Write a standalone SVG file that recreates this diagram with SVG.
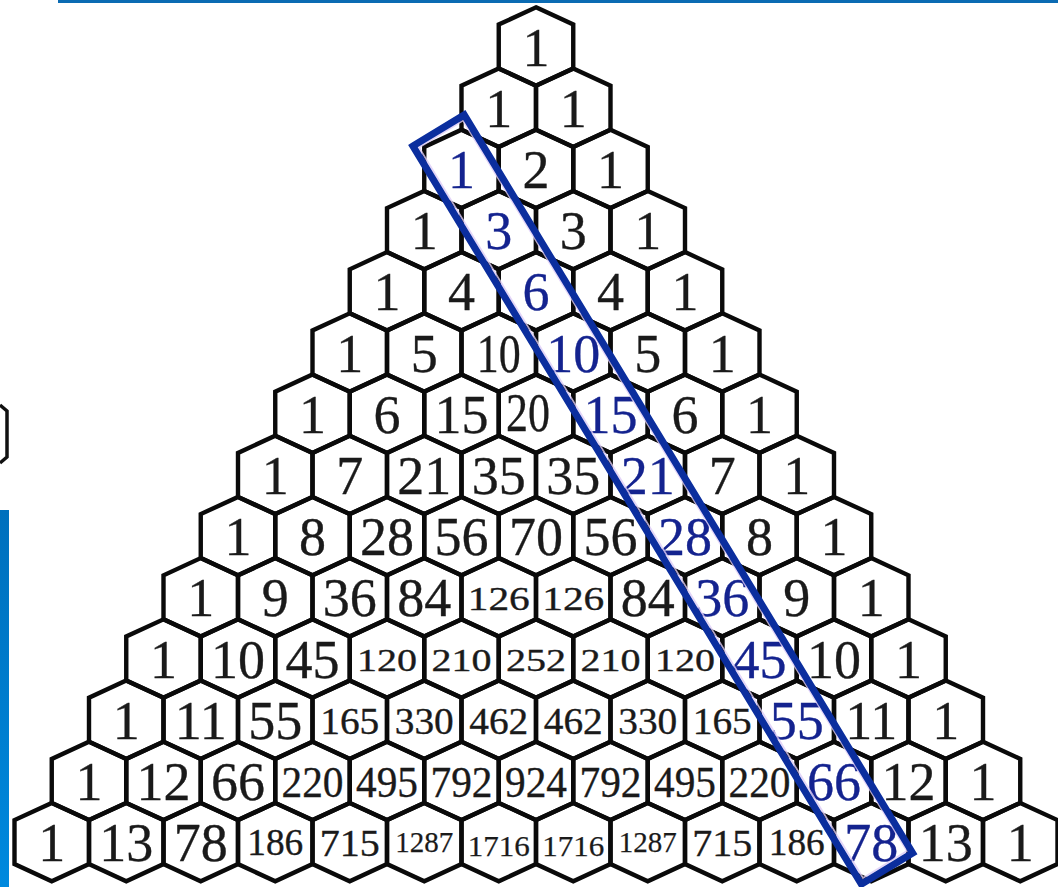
<svg xmlns="http://www.w3.org/2000/svg" width="1058" height="887" viewBox="0 0 1058 887">
<style>
.hex{fill:none;stroke:#0a0a0a;stroke-width:4.4;stroke-linejoin:miter}
.t{font-family:'Liberation Serif','Times New Roman','DejaVu Serif',serif;text-anchor:middle;fill:#1a1a1a;stroke:#1a1a1a;stroke-width:0.35}
.a{font-size:54px}
.b{font-size:34px}
.c{font-size:32px}
.d{font-size:37px}
.e{font-size:44px}
.f{font-size:38px}
.g{font-size:29px;stroke-width:0.25}
.hl{fill:#14238f;stroke:#14238f}
</style>
<defs>
<polygon id="hx" class="hex" points="0,-39.2 37.25,-22 37.25,22 0,39.2 -37.25,22 -37.25,-22"/>
<linearGradient id="bar" x1="0" y1="0" x2="0" y2="1">
<stop offset="0" stop-color="#0070bd"/>
<stop offset="1" stop-color="#0089de"/>
</linearGradient>
</defs>
<rect width="1058" height="887" fill="#fff"/>
<rect x="58" y="0" width="1000" height="3" fill="#0b6bb3"/>
<rect x="0" y="510" width="9" height="377" fill="url(#bar)"/>
<path d="M0,405 L7,411 L7,457 L0,463" fill="none" stroke="#111" stroke-width="3.5"/>
<g id="nodes" font-family="'Liberation Serif','Times New Roman','DejaVu Serif',serif">
<g id="n0_0" transform="translate(536,46.5)"><use href="#hx"/><text class="t a" y="19">1</text></g>
<g id="n1_0" transform="translate(498.75,107.7)"><use href="#hx"/><text class="t a" y="19">1</text></g>
<g id="n1_1" transform="translate(573.25,107.7)"><use href="#hx"/><text class="t a" y="19">1</text></g>
<g id="n2_0" transform="translate(461.5,168.9)"><use href="#hx"/><text class="t a hl" y="19">1</text></g>
<g id="n2_1" transform="translate(536,168.9)"><use href="#hx"/><text class="t a" y="19">2</text></g>
<g id="n2_2" transform="translate(610.5,168.9)"><use href="#hx"/><text class="t a" y="19">1</text></g>
<g id="n3_0" transform="translate(424.25,230.1)"><use href="#hx"/><text class="t a" y="19">1</text></g>
<g id="n3_1" transform="translate(498.75,230.1)"><use href="#hx"/><text class="t a hl" y="19">3</text></g>
<g id="n3_2" transform="translate(573.25,230.1)"><use href="#hx"/><text class="t a" y="19">3</text></g>
<g id="n3_3" transform="translate(647.75,230.1)"><use href="#hx"/><text class="t a" y="19">1</text></g>
<g id="n4_0" transform="translate(387,291.3)"><use href="#hx"/><text class="t a" y="19">1</text></g>
<g id="n4_1" transform="translate(461.5,291.3)"><use href="#hx"/><text class="t a" y="19">4</text></g>
<g id="n4_2" transform="translate(536,291.3)"><use href="#hx"/><text class="t a hl" y="19">6</text></g>
<g id="n4_3" transform="translate(610.5,291.3)"><use href="#hx"/><text class="t a" y="19">4</text></g>
<g id="n4_4" transform="translate(685,291.3)"><use href="#hx"/><text class="t a" y="19">1</text></g>
<g id="n5_0" transform="translate(349.75,352.5)"><use href="#hx"/><text class="t a" y="19">1</text></g>
<g id="n5_1" transform="translate(424.25,352.5)"><use href="#hx"/><text class="t a" y="19">5</text></g>
<g id="n5_2" transform="translate(498.75,352.5)"><use href="#hx"/><text class="t a" y="19" textLength="44" lengthAdjust="spacingAndGlyphs">10</text></g>
<g id="n5_3" transform="translate(573.25,352.5)"><use href="#hx"/><text class="t a hl" y="19">10</text></g>
<g id="n5_4" transform="translate(647.75,352.5)"><use href="#hx"/><text class="t a" y="19">5</text></g>
<g id="n5_5" transform="translate(722.25,352.5)"><use href="#hx"/><text class="t a" y="19">1</text></g>
<g id="n6_0" transform="translate(312.5,413.7)"><use href="#hx"/><text class="t a" y="19">1</text></g>
<g id="n6_1" transform="translate(387,413.7)"><use href="#hx"/><text class="t a" y="19">6</text></g>
<g id="n6_2" transform="translate(461.5,413.7)"><use href="#hx"/><text class="t a" y="19">15</text></g>
<g id="n6_3" transform="translate(536,413.7)"><use href="#hx"/><text class="t a" x="-8" y="17" textLength="44" lengthAdjust="spacingAndGlyphs">20</text></g>
<g id="n6_4" transform="translate(610.5,413.7)"><use href="#hx"/><text class="t a hl" y="19">15</text></g>
<g id="n6_5" transform="translate(685,413.7)"><use href="#hx"/><text class="t a" y="19">6</text></g>
<g id="n6_6" transform="translate(759.5,413.7)"><use href="#hx"/><text class="t a" y="19">1</text></g>
<g id="n7_0" transform="translate(275.25,474.9)"><use href="#hx"/><text class="t a" y="19">1</text></g>
<g id="n7_1" transform="translate(349.75,474.9)"><use href="#hx"/><text class="t a" y="19">7</text></g>
<g id="n7_2" transform="translate(424.25,474.9)"><use href="#hx"/><text class="t a" y="19">21</text></g>
<g id="n7_3" transform="translate(498.75,474.9)"><use href="#hx"/><text class="t a" y="19">35</text></g>
<g id="n7_4" transform="translate(573.25,474.9)"><use href="#hx"/><text class="t a" y="19">35</text></g>
<g id="n7_5" transform="translate(647.75,474.9)"><use href="#hx"/><text class="t a hl" y="19">21</text></g>
<g id="n7_6" transform="translate(722.25,474.9)"><use href="#hx"/><text class="t a" y="19">7</text></g>
<g id="n7_7" transform="translate(796.75,474.9)"><use href="#hx"/><text class="t a" y="19">1</text></g>
<g id="n8_0" transform="translate(238,536.1)"><use href="#hx"/><text class="t a" y="19">1</text></g>
<g id="n8_1" transform="translate(312.5,536.1)"><use href="#hx"/><text class="t a" y="19">8</text></g>
<g id="n8_2" transform="translate(387,536.1)"><use href="#hx"/><text class="t a" y="19">28</text></g>
<g id="n8_3" transform="translate(461.5,536.1)"><use href="#hx"/><text class="t a" y="19">56</text></g>
<g id="n8_4" transform="translate(536,536.1)"><use href="#hx"/><text class="t a" y="19">70</text></g>
<g id="n8_5" transform="translate(610.5,536.1)"><use href="#hx"/><text class="t a" y="19">56</text></g>
<g id="n8_6" transform="translate(685,536.1)"><use href="#hx"/><text class="t a hl" y="19">28</text></g>
<g id="n8_7" transform="translate(759.5,536.1)"><use href="#hx"/><text class="t a" y="19">8</text></g>
<g id="n8_8" transform="translate(834,536.1)"><use href="#hx"/><text class="t a" y="19">1</text></g>
<g id="n9_0" transform="translate(200.75,597.3)"><use href="#hx"/><text class="t a" y="19">1</text></g>
<g id="n9_1" transform="translate(275.25,597.3)"><use href="#hx"/><text class="t a" y="19">9</text></g>
<g id="n9_2" transform="translate(349.75,597.3)"><use href="#hx"/><text class="t a" y="19">36</text></g>
<g id="n9_3" transform="translate(424.25,597.3)"><use href="#hx"/><text class="t a" y="19">84</text></g>
<g id="n9_4" transform="translate(498.75,597.3)"><use href="#hx"/><text class="t b" y="13" textLength="62" lengthAdjust="spacingAndGlyphs">126</text></g>
<g id="n9_5" transform="translate(573.25,597.3)"><use href="#hx"/><text class="t b" y="13" textLength="62" lengthAdjust="spacingAndGlyphs">126</text></g>
<g id="n9_6" transform="translate(647.75,597.3)"><use href="#hx"/><text class="t a" y="19">84</text></g>
<g id="n9_7" transform="translate(722.25,597.3)"><use href="#hx"/><text class="t a hl" y="19">36</text></g>
<g id="n9_8" transform="translate(796.75,597.3)"><use href="#hx"/><text class="t a" y="19">9</text></g>
<g id="n9_9" transform="translate(871.25,597.3)"><use href="#hx"/><text class="t a" y="19">1</text></g>
<g id="n10_0" transform="translate(163.5,658.5)"><use href="#hx"/><text class="t a" y="19">1</text></g>
<g id="n10_1" transform="translate(238,658.5)"><use href="#hx"/><text class="t a" y="19">10</text></g>
<g id="n10_2" transform="translate(312.5,658.5)"><use href="#hx"/><text class="t a" y="19">45</text></g>
<g id="n10_3" transform="translate(387,658.5)"><use href="#hx"/><text class="t c" y="12" textLength="60" lengthAdjust="spacingAndGlyphs">120</text></g>
<g id="n10_4" transform="translate(461.5,658.5)"><use href="#hx"/><text class="t c" y="12" textLength="60" lengthAdjust="spacingAndGlyphs">210</text></g>
<g id="n10_5" transform="translate(536,658.5)"><use href="#hx"/><text class="t c" y="12" textLength="60" lengthAdjust="spacingAndGlyphs">252</text></g>
<g id="n10_6" transform="translate(610.5,658.5)"><use href="#hx"/><text class="t c" y="12" textLength="60" lengthAdjust="spacingAndGlyphs">210</text></g>
<g id="n10_7" transform="translate(685,658.5)"><use href="#hx"/><text class="t c" y="12" textLength="60" lengthAdjust="spacingAndGlyphs">120</text></g>
<g id="n10_8" transform="translate(759.5,658.5)"><use href="#hx"/><text class="t a hl" y="19">45</text></g>
<g id="n10_9" transform="translate(834,658.5)"><use href="#hx"/><text class="t a" y="19">10</text></g>
<g id="n10_10" transform="translate(908.5,658.5)"><use href="#hx"/><text class="t a" y="19">1</text></g>
<g id="n11_0" transform="translate(126.25,719.7)"><use href="#hx"/><text class="t a" y="19">1</text></g>
<g id="n11_1" transform="translate(200.75,719.7)"><use href="#hx"/><text class="t a" y="19">11</text></g>
<g id="n11_2" transform="translate(275.25,719.7)"><use href="#hx"/><text class="t a" y="19">55</text></g>
<g id="n11_3" transform="translate(349.75,719.7)"><use href="#hx"/><text class="t d" y="14" textLength="59" lengthAdjust="spacingAndGlyphs">165</text></g>
<g id="n11_4" transform="translate(424.25,719.7)"><use href="#hx"/><text class="t d" y="14" textLength="59" lengthAdjust="spacingAndGlyphs">330</text></g>
<g id="n11_5" transform="translate(498.75,719.7)"><use href="#hx"/><text class="t d" y="14" textLength="59" lengthAdjust="spacingAndGlyphs">462</text></g>
<g id="n11_6" transform="translate(573.25,719.7)"><use href="#hx"/><text class="t d" y="14" textLength="59" lengthAdjust="spacingAndGlyphs">462</text></g>
<g id="n11_7" transform="translate(647.75,719.7)"><use href="#hx"/><text class="t d" y="14" textLength="59" lengthAdjust="spacingAndGlyphs">330</text></g>
<g id="n11_8" transform="translate(722.25,719.7)"><use href="#hx"/><text class="t d" y="14" textLength="59" lengthAdjust="spacingAndGlyphs">165</text></g>
<g id="n11_9" transform="translate(796.75,719.7)"><use href="#hx"/><text class="t a hl" y="19">55</text></g>
<g id="n11_10" transform="translate(871.25,719.7)"><use href="#hx"/><text class="t a" y="19">11</text></g>
<g id="n11_11" transform="translate(945.75,719.7)"><use href="#hx"/><text class="t a" y="19">1</text></g>
<g id="n12_0" transform="translate(89,780.9)"><use href="#hx"/><text class="t a" y="19">1</text></g>
<g id="n12_1" transform="translate(163.5,780.9)"><use href="#hx"/><text class="t a" y="19">12</text></g>
<g id="n12_2" transform="translate(238,780.9)"><use href="#hx"/><text class="t a" y="19">66</text></g>
<g id="n12_3" transform="translate(312.5,780.9)"><use href="#hx"/><text class="t e" y="16" textLength="62" lengthAdjust="spacingAndGlyphs">220</text></g>
<g id="n12_4" transform="translate(387,780.9)"><use href="#hx"/><text class="t e" y="16" textLength="62" lengthAdjust="spacingAndGlyphs">495</text></g>
<g id="n12_5" transform="translate(461.5,780.9)"><use href="#hx"/><text class="t e" y="16" textLength="62" lengthAdjust="spacingAndGlyphs">792</text></g>
<g id="n12_6" transform="translate(536,780.9)"><use href="#hx"/><text class="t e" y="16" textLength="62" lengthAdjust="spacingAndGlyphs">924</text></g>
<g id="n12_7" transform="translate(610.5,780.9)"><use href="#hx"/><text class="t e" y="16" textLength="62" lengthAdjust="spacingAndGlyphs">792</text></g>
<g id="n12_8" transform="translate(685,780.9)"><use href="#hx"/><text class="t e" y="16" textLength="62" lengthAdjust="spacingAndGlyphs">495</text></g>
<g id="n12_9" transform="translate(759.5,780.9)"><use href="#hx"/><text class="t e" y="16" textLength="62" lengthAdjust="spacingAndGlyphs">220</text></g>
<g id="n12_10" transform="translate(834,780.9)"><use href="#hx"/><text class="t a hl" y="19">66</text></g>
<g id="n12_11" transform="translate(908.5,780.9)"><use href="#hx"/><text class="t a" y="19">12</text></g>
<g id="n12_12" transform="translate(983,780.9)"><use href="#hx"/><text class="t a" y="19">1</text></g>
<g id="n13_0" transform="translate(51.75,842.1)"><use href="#hx"/><text class="t a" y="19">1</text></g>
<g id="n13_1" transform="translate(126.25,842.1)"><use href="#hx"/><text class="t a" y="19">13</text></g>
<g id="n13_2" transform="translate(200.75,842.1)"><use href="#hx"/><text class="t a" y="19">78</text></g>
<g id="n13_3" transform="translate(275.25,842.1)"><use href="#hx"/><text class="t f" y="13" textLength="56" lengthAdjust="spacingAndGlyphs">186</text></g>
<g id="n13_4" transform="translate(349.75,842.1)"><use href="#hx"/><text class="t f" y="14" textLength="60" lengthAdjust="spacingAndGlyphs">715</text></g>
<g id="n13_5" transform="translate(424.25,842.1)"><use href="#hx"/><text class="t g" y="10" textLength="58" lengthAdjust="spacingAndGlyphs">1287</text></g>
<g id="n13_6" transform="translate(498.75,842.1)"><use href="#hx"/><text class="t g" y="14" textLength="62" lengthAdjust="spacingAndGlyphs">1716</text></g>
<g id="n13_7" transform="translate(573.25,842.1)"><use href="#hx"/><text class="t g" y="14" textLength="62" lengthAdjust="spacingAndGlyphs">1716</text></g>
<g id="n13_8" transform="translate(647.75,842.1)"><use href="#hx"/><text class="t g" y="10" textLength="58" lengthAdjust="spacingAndGlyphs">1287</text></g>
<g id="n13_9" transform="translate(722.25,842.1)"><use href="#hx"/><text class="t f" y="14" textLength="60" lengthAdjust="spacingAndGlyphs">715</text></g>
<g id="n13_10" transform="translate(796.75,842.1)"><use href="#hx"/><text class="t f" y="13" textLength="56" lengthAdjust="spacingAndGlyphs">186</text></g>
<g id="n13_11" transform="translate(871.25,842.1)"><use href="#hx"/><text class="t a hl" y="19">78</text></g>
<g id="n13_12" transform="translate(945.75,842.1)"><use href="#hx"/><text class="t a" y="19">13</text></g>
<g id="n13_13" transform="translate(1020.25,842.1)"><use href="#hx"/><text class="t a" y="19">1</text></g>
</g>
<g id="connectors">
<polygon points="419,147.5 463,120.5 907,851 863,878" fill="none" stroke="#dccbf6" stroke-width="1.8" opacity="0.8"/>
<polygon id="highlight" points="412.95,146.07 464.25,114.93 912.65,853.03 861.35,884.17" fill="none" stroke="#0b2e9e" stroke-width="7" stroke-linejoin="miter"/>
</g>
</svg>
